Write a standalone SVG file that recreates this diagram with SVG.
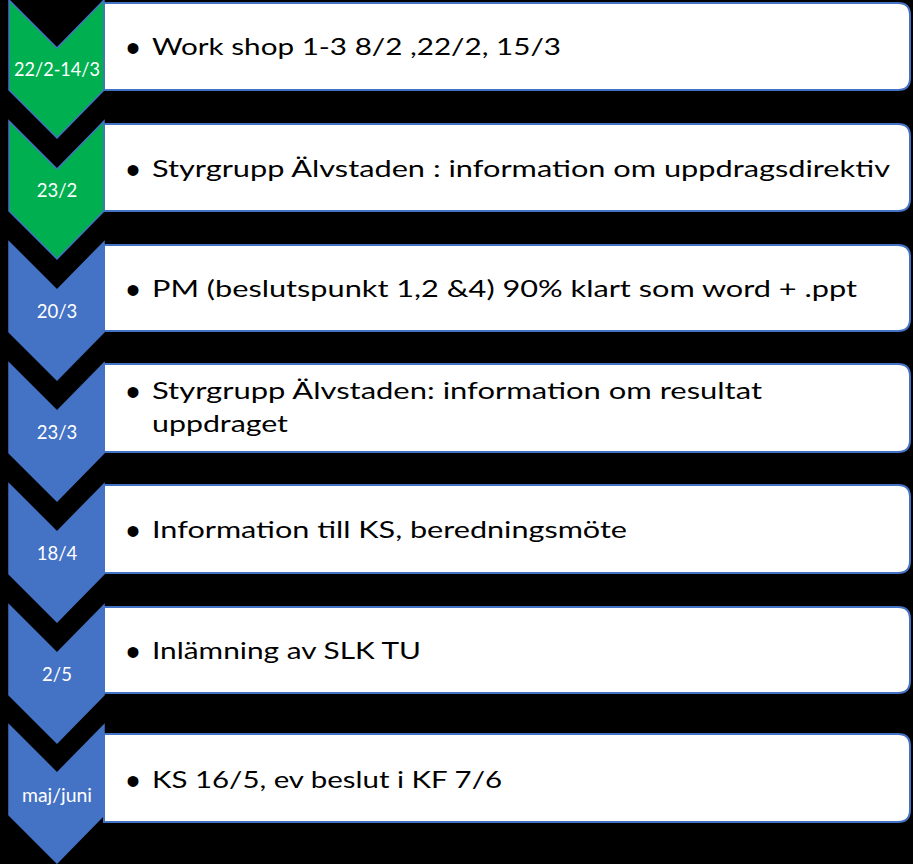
<svg xmlns="http://www.w3.org/2000/svg" width="913" height="864" viewBox="0 0 913 864">
<defs>
<style>
.bg{fill:#000}
.chev-g{fill:#00B050;stroke:#4472C4;stroke-width:1.5}
.chev-b{fill:#4472C4;stroke:#4472C4;stroke-width:1.5}
.box{fill:#fff;stroke:#4472C4;stroke-width:2}
.lab{font-family:Lato,"Liberation Sans",Arial,sans-serif;font-size:18.5px;fill:#fff;text-anchor:middle}
.txt{font-family:Lato,"Liberation Sans",Arial,sans-serif;font-size:24px;fill:#000}
.bul{font-family:"Liberation Sans",Arial,sans-serif;font-size:40px;fill:#000;text-anchor:middle}
</style>
</defs>
<rect class="bg" x="0" y="0" width="913" height="864"/>
<g id="connectors"></g>
<g id="row1">
<path class="box" d="M104,3 H898 Q910,3 910,15 V78 Q910,90 898,90 H104 Z"/>
<path class="chev-g" d="M9,0 L57,48 L104,0 V90 L57,138 L9,90 Z"/>
<text class="lab" x="57" y="76" textLength="86" lengthAdjust="spacingAndGlyphs">22/2-14/3</text>
<text class="bul" x="133" y="62">•</text>
<text class="txt" x="152" y="55" textLength="409" lengthAdjust="spacingAndGlyphs">Work shop 1-3 8/2 ,22/2, 15/3</text>
</g>
<g id="row2">
<path class="box" d="M104,124 H898 Q910,124 910,136 V199 Q910,211 898,211 H104 Z"/>
<path class="chev-g" d="M9,121 L57,169 L104,121 V211 L57,259 L9,211 Z"/>
<text class="lab" x="57" y="197">23/2</text>
<text class="bul" x="133" y="184">•</text>
<text class="txt" x="152" y="177" textLength="738" lengthAdjust="spacingAndGlyphs">Styrgrupp Älvstaden : information om uppdragsdirektiv</text>
</g>
<g id="row3">
<path class="box" d="M104,245 H898 Q910,245 910,257 V319 Q910,331 898,331 H104 Z"/>
<path class="chev-b" d="M9,242 L57,290 L104,242 V332 L57,380 L9,332 Z"/>
<text class="lab" x="57" y="318">20/3</text>
<text class="bul" x="133" y="304">•</text>
<text class="txt" x="152" y="297" textLength="705" lengthAdjust="spacingAndGlyphs">PM (beslutspunkt 1,2 &amp;4) 90% klart som word + .ppt</text>
</g>
<g id="row4">
<path class="box" d="M104,364 H898 Q910,364 910,376 V440 Q910,452 898,452 H104 Z"/>
<path class="chev-b" d="M9,363 L57,411 L104,363 V453 L57,501 L9,453 Z"/>
<text class="lab" x="57" y="439">23/3</text>
<text class="bul" x="133" y="406">•</text>
<text class="txt" x="152" y="399" textLength="610" lengthAdjust="spacingAndGlyphs">Styrgrupp Älvstaden: information om resultat</text>
<text class="txt" x="152" y="432" textLength="136" lengthAdjust="spacingAndGlyphs">uppdraget</text>
</g>
<g id="row5">
<path class="box" d="M104,485 H898 Q910,485 910,497 V561 Q910,573 898,573 H104 Z"/>
<path class="chev-b" d="M9,484 L57,532 L104,484 V574 L57,622 L9,574 Z"/>
<text class="lab" x="57" y="560">18/4</text>
<text class="bul" x="133" y="545">•</text>
<text class="txt" x="152" y="538" textLength="475" lengthAdjust="spacingAndGlyphs">Information till KS, beredningsmöte</text>
</g>
<g id="row6">
<path class="box" d="M104,607 H898 Q910,607 910,619 V681 Q910,693 898,693 H104 Z"/>
<path class="chev-b" d="M9,605 L57,653 L104,605 V695 L57,743 L9,695 Z"/>
<text class="lab" x="57" y="681">2/5</text>
<text class="bul" x="133" y="666">•</text>
<text class="txt" x="152" y="659" textLength="269" lengthAdjust="spacingAndGlyphs">Inlämning av SLK TU</text>
</g>
<g id="row7">
<path class="box" d="M104,734 H898 Q910,734 910,746 V810 Q910,822 898,822 H104 Z"/>
<path class="chev-b" d="M9,725 L57,773 L104,725 V815 L57,863 L9,815 Z"/>
<text class="lab" x="57" y="802" textLength="70" lengthAdjust="spacingAndGlyphs">maj/juni</text>
<text class="bul" x="133" y="795">•</text>
<text class="txt" x="152" y="788" textLength="350" lengthAdjust="spacingAndGlyphs">KS 16/5, ev beslut i KF 7/6</text>
</g>
</svg>
